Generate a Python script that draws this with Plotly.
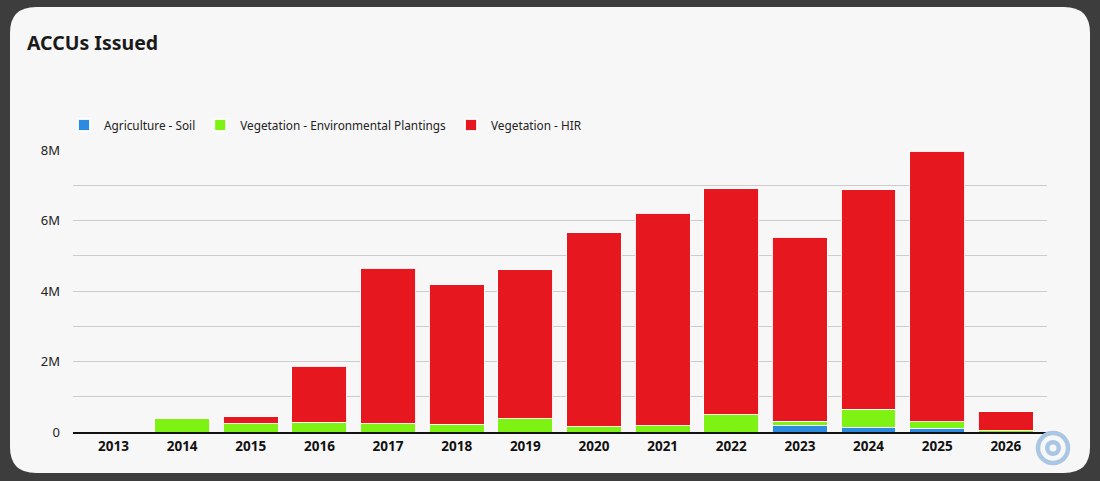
import plotly.graph_objects as go

years = [str(y) for y in range(2013, 2027)]
soil = [0, 0, 0, 0, 0, 0, 0, 0, 0, 0, 0.19e6, 0.13e6, 0.10e6, 0]
env_plantings = [0, 0.37e6, 0.23e6, 0.27e6, 0.235e6, 0.22e6, 0.38e6, 0.15e6, 0.18e6, 0.49e6, 0.12e6, 0.52e6, 0.19e6, 0.03e6]
hir = [0, 0, 0.20e6, 1.59e6, 4.415e6, 3.96e6, 4.22e6, 5.50e6, 6.03e6, 6.41e6, 5.22e6, 6.22e6, 7.68e6, 0.55e6]

ytick_vals = [0, 2e6, 4e6, 6e6, 8e6]
ytick_text = ["0", "2M", "4M", "6M", "8M"]

W, H = 1100, 481
L, R, T, B = 73, 53, 150, 49
PW, PH = W - L - R, H - T - B


def px(x):
    return (x - L) / PW


def py(y):
    return (H - B - y) / PH


fig = go.Figure()
line = dict(color="rgba(255,255,255,0.9)", width=1)
fig.add_bar(x=years, y=soil, name="Agriculture - Soil", marker=dict(color="#2a8be0", line=line))
fig.add_bar(x=years, y=env_plantings, name="Vegetation - Environmental Plantings", marker=dict(color="#7ef212", line=line))
fig.add_bar(x=years, y=hir, name="Vegetation - HIR", marker=dict(color="#e6171e", line=line))

# rounded card
x0, y0, x1, y1, r = 10, 7, 1090, 473, 26
path = (
    f"M {px(x0 + r)},{py(y0)} L {px(x1 - r)},{py(y0)} Q {px(x1)},{py(y0)} {px(x1)},{py(y0 + r)} "
    f"L {px(x1)},{py(y1 - r)} Q {px(x1)},{py(y1)} {px(x1 - r)},{py(y1)} "
    f"L {px(x0 + r)},{py(y1)} Q {px(x0)},{py(y1)} {px(x0)},{py(y1 - r)} "
    f"L {px(x0)},{py(y0 + r)} Q {px(x0)},{py(y0)} {px(x0 + r)},{py(y0)} Z"
)
shapes = [dict(type="path", path=path, xref="paper", yref="paper", fillcolor="#f7f7f7",
               line=dict(width=0), layer="below")]
# logo circles
cx, cy = 1053, 448
for rad, fill, lc, lw in [(15, "rgba(0,0,0,0)", "#a9c7e3", 4.5), (8, "#a9c7e3", "#a9c7e3", 0), (3.5, "#f7f7f7", "#f7f7f7", 0)]:
    shapes.append(dict(type="circle", xref="paper", yref="paper",
                       x0=px(cx - rad), x1=px(cx + rad), y0=py(cy + rad), y1=py(cy - rad),
                       fillcolor=fill, line=dict(color=lc, width=lw), layer="above"))

fig.update_layout(
    width=W, height=H,
    margin=dict(l=L, r=R, t=T, b=B),
    barmode="stack", bargap=0.2,
    paper_bgcolor="#3d3d3d", plot_bgcolor="rgba(0,0,0,0)",
    font=dict(family="Noto Sans, Open Sans, sans-serif", color="#222222", size=13),
    shapes=shapes,
    title=dict(text="ACCUs Issued", x=27 / W, xanchor="left", xref="container",
               y=1 - 43 / H, yanchor="middle", yref="container",
               font=dict(size=19.5, color="#1a1a1a", weight="bold")),
    legend=dict(orientation="h", x=px(64), xanchor="left", y=py(125), yanchor="middle",
                font=dict(size=11.8, color="#222222"), bgcolor="rgba(0,0,0,0)",
                traceorder="normal", itemsizing="constant"),
    showlegend=True,
)
fig.update_xaxes(showline=True, linecolor="#111111", linewidth=1.5, ticks="",
                 range=[-0.59, len(years) - 0.4],
                 tickfont=dict(size=13.5, weight="bold", color="#111111"),
                 ticklabelstandoff=1, fixedrange=True)
fig.update_yaxes(range=[0, 8e6], tickvals=ytick_vals, ticktext=ytick_text,
                 showgrid=True, gridcolor="#cccccc", gridwidth=1, zeroline=False,
                 minor=dict(dtick=1e6, showgrid=True, gridcolor="#cccccc", gridwidth=1),
                 tickfont=dict(size=13, color="#222222"), ticklabelstandoff=12, fixedrange=True)

fig.write_html("out.html", config={"displayModeBar": False},
               post_script="document.body.style.margin='0';document.body.style.overflow='hidden';")
